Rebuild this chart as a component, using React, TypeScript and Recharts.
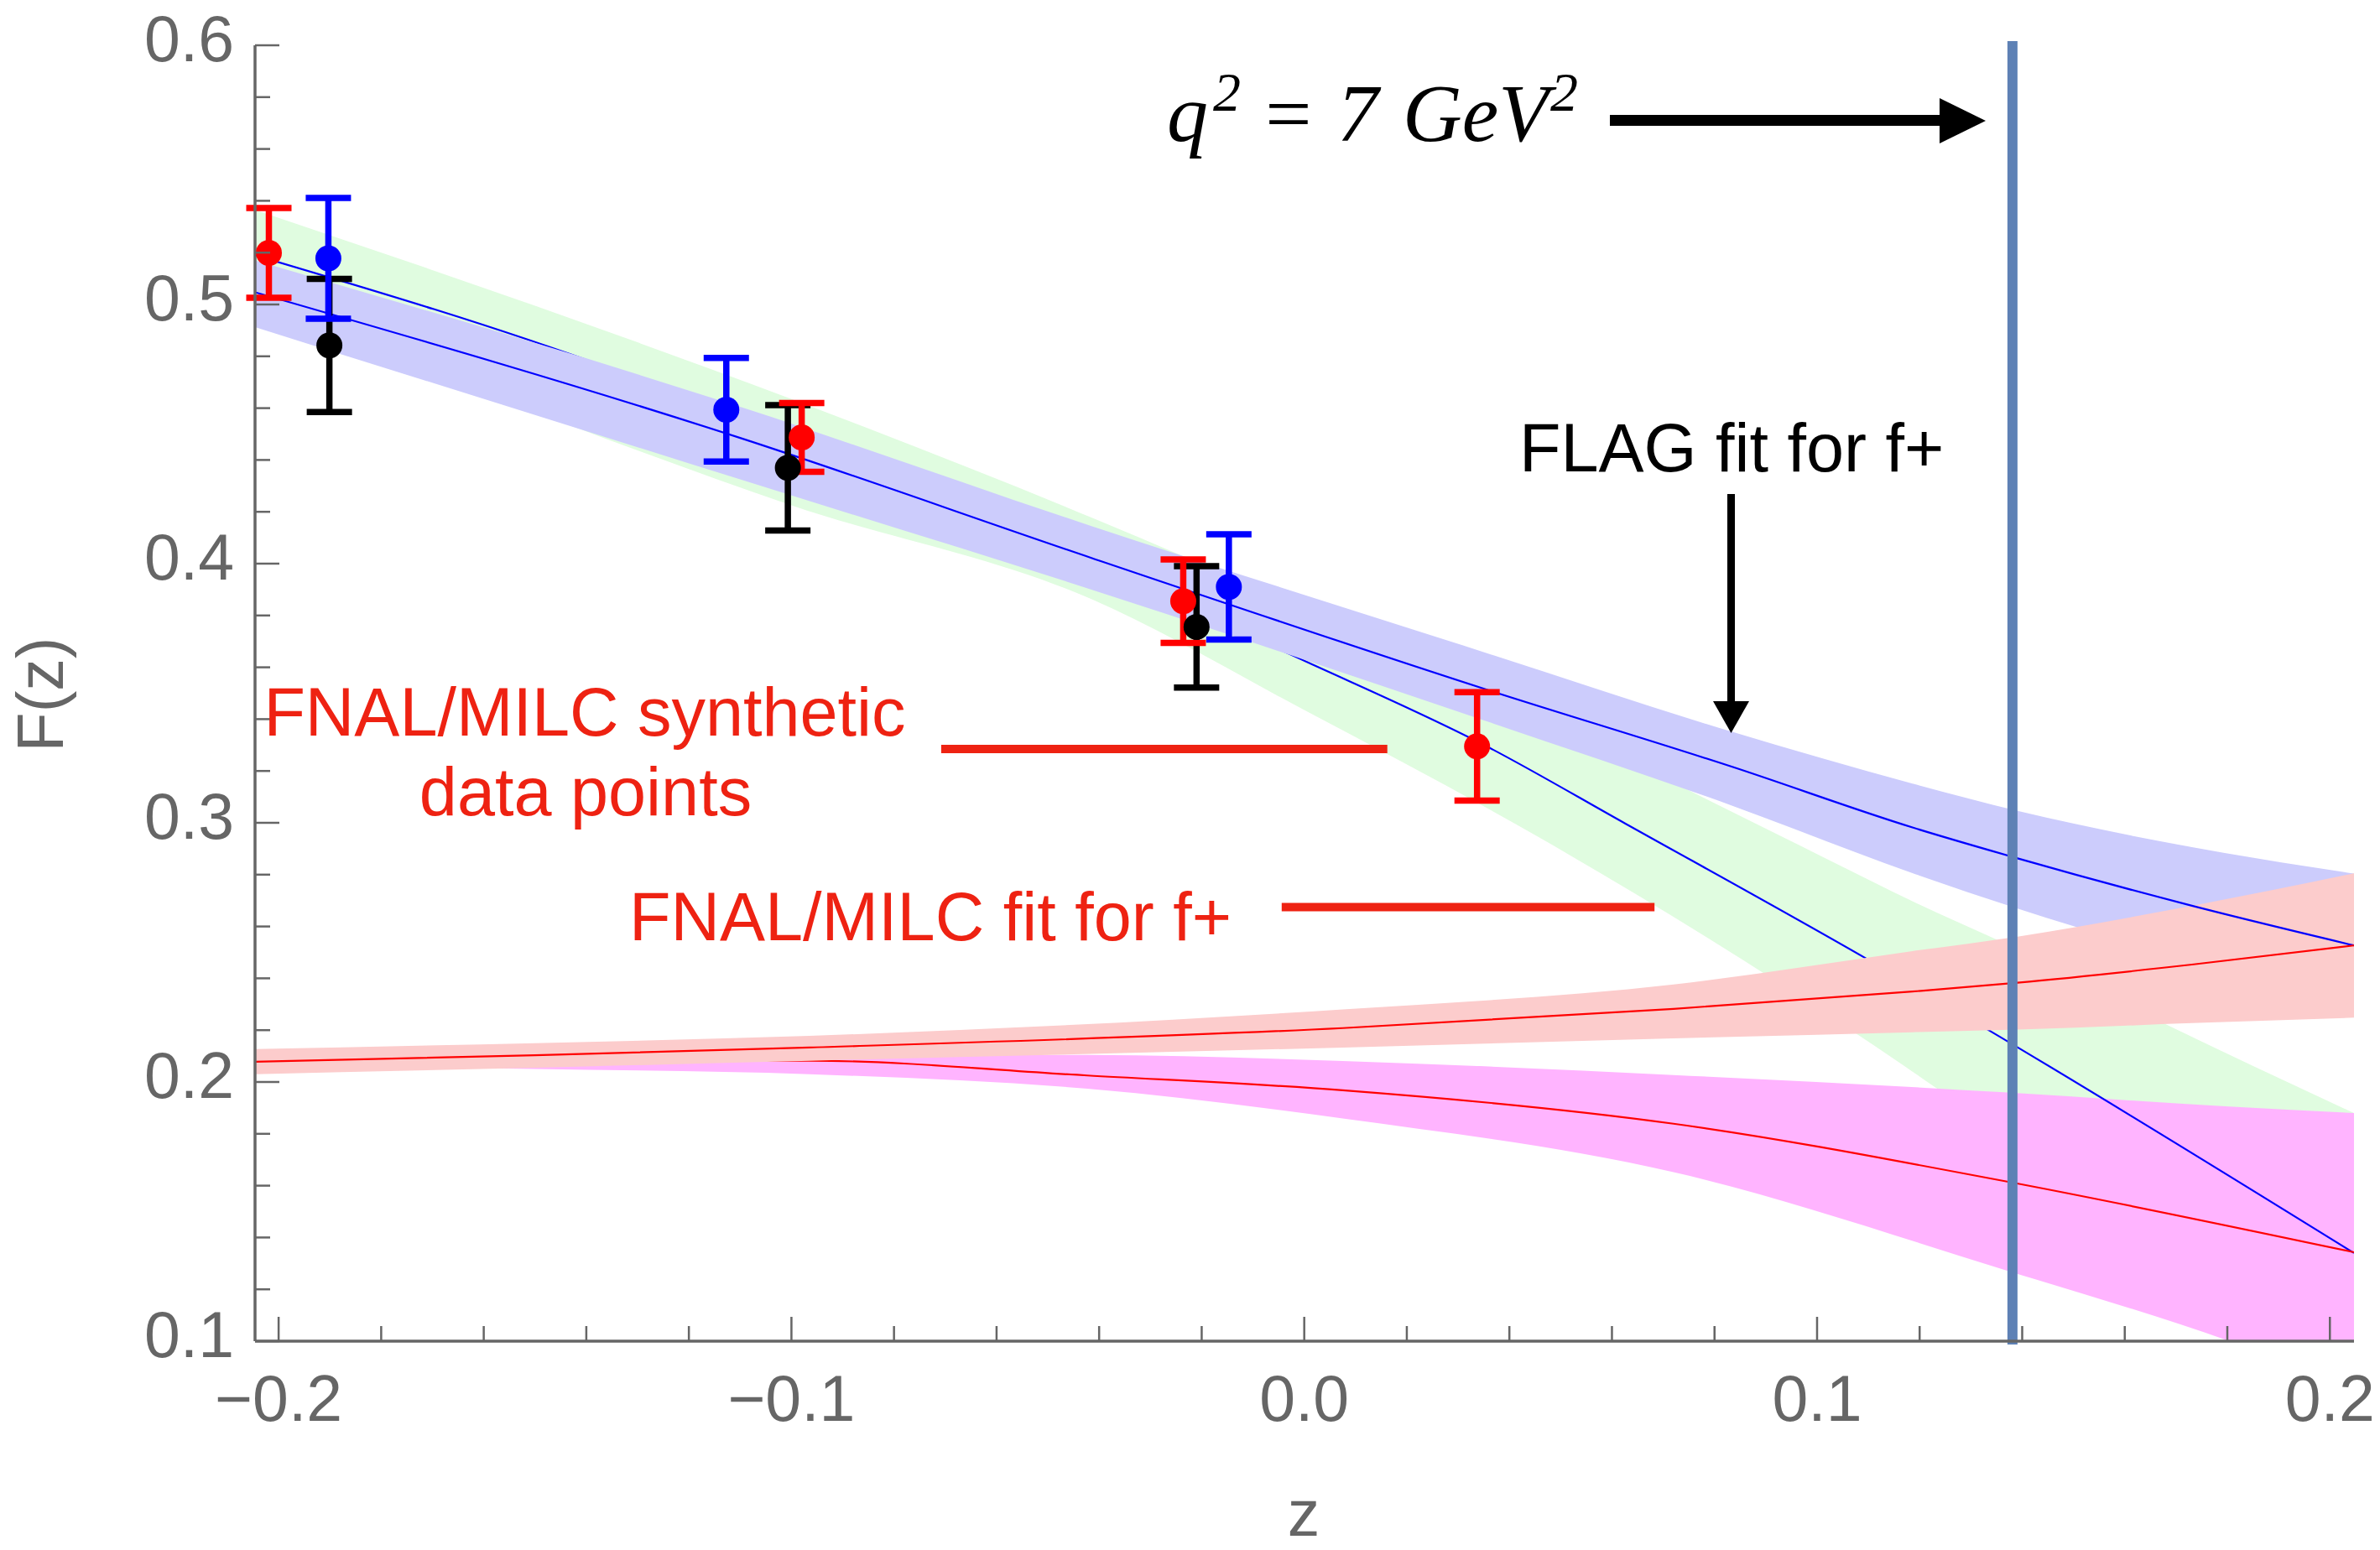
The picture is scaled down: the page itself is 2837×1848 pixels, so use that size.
import React from 'react';
import { ComposedChart, XAxis, YAxis, Area, Line, Scatter, ErrorBar, ReferenceLine } from 'recharts';

const W = 2837;
const H = 1848;
const SANS = "'Liberation Sans', Arial, Helvetica, sans-serif";
const SERIF = "'Liberation Serif', 'Times New Roman', serif";
const AXIS_GRAY = '#666666';
const NOTE_RED = '#ee2212';

const Z_DOMAIN: [number, number] = [-0.2046, 0.2047];
const F_DOMAIN: [number, number] = [0.1, 0.6];

// ticks (minor every 0.02) and labels for the major ones
const X_TICKS = [-0.2, -0.18, -0.16, -0.14, -0.12, -0.1, -0.08, -0.06, -0.04, -0.02, 0, 0.02, 0.04, 0.06, 0.08, 0.1, 0.12, 0.14, 0.16, 0.18, 0.2];
const X_MAJOR = [-0.2, -0.1, 0, 0.1, 0.2];
const X_LABELS = ['\u22120.2', '\u22120.1', '0.0', '0.1', '0.2'];
const Y_TICKS = [0.1, 0.12, 0.14, 0.16, 0.18, 0.2, 0.22, 0.24, 0.26, 0.28, 0.3, 0.32, 0.34, 0.36, 0.38, 0.4, 0.42, 0.44, 0.46, 0.48, 0.5, 0.52, 0.54, 0.56, 0.58, 0.6];
const Y_MAJOR = [0.1, 0.2, 0.3, 0.4, 0.5, 0.6];
const Y_LABELS = ['0.1', '0.2', '0.3', '0.4', '0.5', '0.6'];

// FNAL/MILC f+ band (green) and its central curve
const GREEN_Z = [-0.2046, -0.15, -0.1, -0.0415, 0, 0.0462, 0.0939, 0.1235, 0.1344, 0.1687, 0.2047];
const GREEN_LO = [0.5015, 0.4585, 0.4225, 0.3863, 0.3435, 0.2939, 0.2365, 0.1973, 0.182, 0.132, 0.078];
const GREEN_HI = [0.5365, 0.4995, 0.4635, 0.4178, 0.3824, 0.3405, 0.2939, 0.2652, 0.2555, 0.2216, 0.188];
const GREEN_MID_Z = [-0.2046, -0.1349, -0.07, 0.0008, 0.0351, 0.0627, 0.1096, 0.1333, 0.2047];
const GREEN_MID = [0.519, 0.475, 0.4225, 0.3618, 0.33, 0.2996, 0.2476, 0.2202, 0.134];

// FNAL/MILC f0 band (magenta) and its central curve
const MAG_Z = [-0.2046, -0.15, -0.0965, -0.0423, 0.0075, 0.072, 0.1364, 0.1803, 0.2047];
const MAG_LO = [0.2065, 0.205, 0.203, 0.1974, 0.1859, 0.1652, 0.1276, 0.1001, 0.082];
const MAG_HI = [0.2085, 0.2095, 0.2102, 0.2104, 0.2081, 0.2027, 0.196, 0.1905, 0.188];
const MAG_MID_Z = [-0.2046, -0.15, -0.0965, -0.0423, 0.0075, 0.072, 0.1364, 0.2047];
const MAG_MID = [0.2075, 0.2082, 0.2082, 0.2025, 0.1968, 0.1839, 0.1618, 0.1343];

// FLAG f+ band (lavender) and its central curve
const LAV_Z = [-0.2046, -0.11, -0.0415, 0.0351, 0.0836, 0.1186, 0.1391, 0.1731, 0.2047];
const LAV_LO = [0.4913, 0.4325, 0.39, 0.3395, 0.3065, 0.2806, 0.2669, 0.246, 0.225];
const LAV_HI = [0.517, 0.4605, 0.4145, 0.3658, 0.335, 0.3151, 0.3046, 0.2906, 0.2804];
const LAV_MID = [0.5047, 0.4485, 0.4022, 0.3517, 0.3215, 0.2982, 0.2863, 0.268, 0.2527];

// FLAG f0 band (pink) and its central curve
const PINK_Z = [-0.2046, -0.15, -0.0965, 0.0075, 0.072, 0.1186, 0.1391, 0.1731, 0.2047];
const PINK_LO = [0.203, 0.2055, 0.2082, 0.2133, 0.2168, 0.2192, 0.2202, 0.2227, 0.2248];
const PINK_HI = [0.2127, 0.215, 0.2178, 0.228, 0.2376, 0.2505, 0.2561, 0.268, 0.2805];
const PINK_MID = [0.2078, 0.2103, 0.2133, 0.2208, 0.2282, 0.2349, 0.2383, 0.2453, 0.2527];

// synthetic data points with errors
const RED_Z = [-0.2019, -0.098, -0.0236, 0.0337];
const RED_V = [0.5199, 0.4487, 0.3855, 0.3295];
const RED_E = [0.0173, 0.0133, 0.0161, 0.0209];
const BLUE_Z = [-0.1903, -0.1127, -0.0147];
const BLUE_V = [0.5178, 0.4594, 0.391];
const BLUE_E = [0.0233, 0.02, 0.0203];
const BLACK_Z = [-0.1901, -0.1007, -0.021];
const BLACK_V = [0.4842, 0.437, 0.3756];
const BLACK_E = [0.0257, 0.0242, 0.0234];

// q^2 = 7 GeV^2 position in z
const Q2_Z = 0.1381;

const band = (zs: number[], lo: number[], hi: number[]) => zs.map((z, i) => ({ z, r: [lo[i], hi[i]] }));
const curve = (zs: number[], vs: number[]) => zs.map((z, i) => ({ z, v: vs[i] }));
const points = (zs: number[], vs: number[], es: number[]) => zs.map((z, i) => ({ z, v: vs[i], e: es[i] }));

const greenBand = band(GREEN_Z, GREEN_LO, GREEN_HI);
const greenMid = curve(GREEN_MID_Z, GREEN_MID);
const magBand = band(MAG_Z, MAG_LO, MAG_HI);
const magMid = curve(MAG_MID_Z, MAG_MID);
const lavBand = band(LAV_Z, LAV_LO, LAV_HI);
const lavMid = curve(LAV_Z, LAV_MID);
const pinkBand = band(PINK_Z, PINK_LO, PINK_HI);
const pinkMid = curve(PINK_Z, PINK_MID);
const redPts = points(RED_Z, RED_V, RED_E);
const bluePts = points(BLUE_Z, BLUE_V, BLUE_E);
const blackPts = points(BLACK_Z, BLACK_V, BLACK_E);

const findMajor = (list: number[], v: number) => list.findIndex((m) => Math.abs(m - v) < 1e-9);

const MAJOR_LEN = 29;
const MINOR_LEN = 18;
const TICK_W = 2.5;

const BottomTick = (p: any) => {
  const { x, y, payload } = p;
  const idx = findMajor(X_MAJOR, payload.value);
  const len = idx >= 0 ? MAJOR_LEN : MINOR_LEN;
  return (
    <g>
      <line x1={x} x2={x} y1={y} y2={y - len} stroke={AXIS_GRAY} strokeWidth={TICK_W} />
      {idx >= 0 && (
        <text x={x} y={y + 95} textAnchor="middle" fontSize={77} fill={AXIS_GRAY} fontFamily={SANS}>
          {X_LABELS[idx]}
        </text>
      )}
    </g>
  );
};

const TopTick = (p: any) => {
  const { x, y, payload } = p;
  const idx = findMajor(X_MAJOR, payload.value);
  const len = idx >= 0 ? MAJOR_LEN : MINOR_LEN;
  return <line x1={x} x2={x} y1={y} y2={y + len} stroke={AXIS_GRAY} strokeWidth={TICK_W} />;
};

const LeftTick = (p: any) => {
  const { x, y, payload } = p;
  const idx = findMajor(Y_MAJOR, payload.value);
  const len = idx >= 0 ? MAJOR_LEN : MINOR_LEN;
  return (
    <g>
      <line x1={x} x2={x + len} y1={y} y2={y} stroke={AXIS_GRAY} strokeWidth={TICK_W} />
      {idx >= 0 && (
        <text x={x - 25} y={y + 19} textAnchor="end" fontSize={77} fill={AXIS_GRAY} fontFamily={SANS}>
          {Y_LABELS[idx]}
        </text>
      )}
    </g>
  );
};

const RightTick = (p: any) => {
  const { x, y, payload } = p;
  const idx = findMajor(Y_MAJOR, payload.value);
  const len = idx >= 0 ? MAJOR_LEN : MINOR_LEN;
  return <line x1={x} x2={x - len} y1={y} y2={y} stroke={AXIS_GRAY} strokeWidth={TICK_W} />;
};

const dot = (color: string) => (p: any) => <circle cx={p.cx} cy={p.cy} r={15.5} fill={color} />;

const axisLine = { stroke: AXIS_GRAY, strokeWidth: 3.5 };

// identical axis geometry for both stacked layers; only the top layer shows the frame
const axes = (visible: boolean) => [
  <XAxis
    key="xb"
    xAxisId={0}
    type="number"
    dataKey="z"
    domain={Z_DOMAIN}
    allowDataOverflow
    ticks={X_TICKS}
    interval={0}
    tickSize={0}
    tickMargin={0}
    height={249}
    axisLine={visible ? axisLine : false}
    tickLine={false}
    tick={visible ? (p: any) => <BottomTick {...p} /> : false}
  />,
  <XAxis
    key="xt"
    xAxisId="top"
    orientation="top"
    type="number"
    dataKey="z"
    domain={Z_DOMAIN}
    allowDataOverflow
    ticks={X_TICKS}
    interval={0}
    tickSize={0}
    tickMargin={0}
    height={0}
    axisLine={visible ? axisLine : false}
    tickLine={false}
    tick={visible ? (p: any) => <TopTick {...p} /> : false}
  />,
  <YAxis
    key="yl"
    yAxisId={0}
    type="number"
    domain={F_DOMAIN}
    allowDataOverflow
    ticks={Y_TICKS}
    interval={0}
    tickSize={0}
    tickMargin={0}
    width={304}
    axisLine={visible ? axisLine : false}
    tickLine={false}
    tick={visible ? (p: any) => <LeftTick {...p} /> : false}
  />,
  <YAxis
    key="yr"
    yAxisId="right"
    orientation="right"
    type="number"
    domain={F_DOMAIN}
    allowDataOverflow
    ticks={Y_TICKS}
    interval={0}
    tickSize={0}
    tickMargin={0}
    width={0}
    axisLine={visible ? axisLine : false}
    tickLine={false}
    tick={visible ? (p: any) => <RightTick {...p} /> : false}
  />,
];

const MARGIN = { top: 54, right: 31, bottom: 0, left: 0 };
const layer: React.CSSProperties = { position: 'absolute', left: 0, top: 0 };

export default function App() {
  return (
    <div style={{ position: 'fixed', left: 0, top: 0, width: W, height: H, background: '#fff', overflow: 'hidden' }}>
      {/* bottom layer: FNAL/MILC bands and curves */}
      <div style={layer}>
        <ComposedChart width={W} height={H} margin={MARGIN}>
          {axes(false)}
          <ReferenceLine
            segment={[{ x: -0.0708, y: 0.3285 }, { x: 0.0162, y: 0.3285 }]}
            stroke={NOTE_RED}
            strokeWidth={10}
            ifOverflow="visible"
          />
          <ReferenceLine
            segment={[{ x: -0.0044, y: 0.2675 }, { x: 0.0683, y: 0.2675 }]}
            stroke={NOTE_RED}
            strokeWidth={10}
            ifOverflow="visible"
          />
          <Area data={greenBand} dataKey="r" type="monotone" stroke="none" fill="#e0fce0" fillOpacity={1} dot={false} activeDot={false} isAnimationActive={false} />
          <Area data={magBand} dataKey="r" type="monotone" stroke="none" fill="#ffb4ff" fillOpacity={1} dot={false} activeDot={false} isAnimationActive={false} />
          <Line data={greenMid} dataKey="v" type="monotone" stroke="#0000ff" strokeWidth={2.2} dot={false} activeDot={false} isAnimationActive={false} />
          <Line data={magMid} dataKey="v" type="monotone" stroke="#ff0000" strokeWidth={2.2} dot={false} activeDot={false} isAnimationActive={false} />
        </ComposedChart>
      </div>

      {/* top layer: FLAG bands, curves, data points, frame */}
      <div style={layer}>
        <ComposedChart width={W} height={H} margin={MARGIN}>
          {axes(true)}
          <Area data={lavBand} dataKey="r" type="monotone" stroke="none" fill="#ccccfc" fillOpacity={1} dot={false} activeDot={false} isAnimationActive={false} />
          <Area data={pinkBand} dataKey="r" type="monotone" stroke="none" fill="#fccccc" fillOpacity={1} dot={false} activeDot={false} isAnimationActive={false} />
          <Line data={lavMid} dataKey="v" type="monotone" stroke="#0000ff" strokeWidth={2.2} dot={false} activeDot={false} isAnimationActive={false} />
          <Line data={pinkMid} dataKey="v" type="monotone" stroke="#ff0000" strokeWidth={2.2} dot={false} activeDot={false} isAnimationActive={false} />

          <Scatter data={blackPts} dataKey="v" fill="#000000" shape={dot('#000000')} isAnimationActive={false}>
            <ErrorBar dataKey="e" direction="y" width={27} strokeWidth={7.5} stroke="#000000" isAnimationActive={false} />
          </Scatter>
          <Scatter data={bluePts} dataKey="v" fill="#0000ff" shape={dot('#0000ff')} isAnimationActive={false}>
            <ErrorBar dataKey="e" direction="y" width={27} strokeWidth={7.5} stroke="#0000ff" isAnimationActive={false} />
          </Scatter>
          <Scatter data={redPts} dataKey="v" fill="#ff0000" shape={dot('#ff0000')} isAnimationActive={false}>
            <ErrorBar dataKey="e" direction="y" width={27} strokeWidth={7.5} stroke="#ff0000" isAnimationActive={false} />
          </Scatter>

          <ReferenceLine
            segment={[{ x: Q2_Z, y: 0.6016 }, { x: Q2_Z, y: 0.0987 }]}
            stroke="#5e81b5"
            strokeWidth={12}
            ifOverflow="visible"
          />
        </ComposedChart>
      </div>

      <svg width={W} height={H} style={{ position: 'absolute', left: 0, top: 0, pointerEvents: 'none' }}>
        <text fontFamily={SERIF} fontStyle="italic" fontSize={98} fill="#000">
          <tspan x={1391} y={168}>q</tspan>
          <tspan x={1446} y={132} fontSize={66}>2</tspan>
          <tspan x={1502} y={168}>=</tspan>
          <tspan x={1594} y={168}>7</tspan>
          <tspan x={1672} y={168}>GeV</tspan>
          <tspan x={1848} y={132} fontSize={66}>2</tspan>
        </text>
        <rect x={1919} y={137} width={395} height={13} fill="#000" />
        <polygon points="2312,117 2367,144 2312,171" fill="#000" />

        <text x={1811} y={562} fontSize={81} fontFamily={SANS} fill="#000">FLAG fit for f+</text>
        <rect x={2059} y={589} width={9} height={250} fill="#000" />
        <polygon points="2042,836 2085,836 2063.5,874" fill="#000" />

        <text x={697} y={877} fontSize={81} fontFamily={SANS} fill={NOTE_RED} textAnchor="middle">FNAL/MILC synthetic</text>
        <text x={698} y={972} fontSize={81} fontFamily={SANS} fill={NOTE_RED} textAnchor="middle">data points</text>
        <text x={1468} y={1121} fontSize={81} fontFamily={SANS} fill={NOTE_RED} textAnchor="end">FNAL/MILC fit for f+</text>

        <text x={1554} y={1831} fontSize={77} fontFamily={SANS} fill={AXIS_GRAY} textAnchor="middle">z</text>
        <text x={-828} y={75} transform="rotate(-90)" fontSize={77} fontFamily={SANS} fill={AXIS_GRAY} textAnchor="middle">F(z)</text>
      </svg>
    </div>
  );
}
